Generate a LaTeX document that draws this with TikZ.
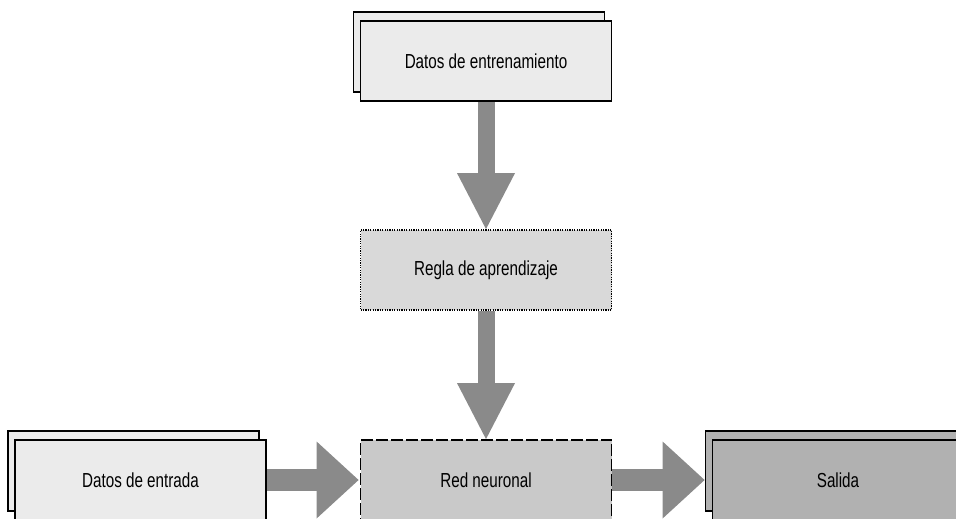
\documentclass[tikz,border=0pt]{standalone}
\usepackage{fontspec}
\setmainfont{Liberation Sans}[FakeStretch=0.75]
\usepackage{tikz}
\usetikzlibrary{arrows.meta}
\usetikzlibrary{shadows}
\usetikzlibrary{backgrounds}
\definecolor{datafill}{HTML}{EBEBEB}
\definecolor{rulefill}{HTML}{D9D9D9}
\definecolor{netfill}{HTML}{C9C9C9}
\definecolor{outfill}{HTML}{B1B1B1}
\definecolor{flowgray}{HTML}{8A8A8A}
\tikzset{box/.style={draw, line width=1.8pt, inner sep=0pt, minimum width=251pt, minimum height=80pt, font=\fontsize{20.3}{24}\selectfont}}
\tikzset{stackbox/.style={box, fill=#1, copy shadow={shadow xshift=-7pt, shadow yshift=9pt, fill=#1, draw=black, line width=1.8pt}}}
\tikzset{downflow/.style={color=flowgray, line width=17pt, -{Triangle[width=58pt, length=56pt, line width=0pt]}}}
\tikzset{sideflow/.style={color=flowgray, line width=22pt, -{Triangle[width=77pt, length=42pt, line width=0pt]}}}

\begin{document}
\begin{tikzpicture}[x=1pt,y=-1pt]
  \useasboundingbox (0,0) rectangle (956,519);
  \node[stackbox=datafill] (train) at (486,61) {Datos de entrenamiento};
  \node[box, fill=rulefill, dash pattern=on 1.2pt off 1.2pt] (rule) at (486,270) {Regla de aprendizaje};
  \node[box, fill=netfill, dash pattern=on 12pt off 3pt] (net) at (486,480) {Red neuronal};
  \node[stackbox=datafill] (input) at (140.5,480) {Datos de entrada};
  \node[stackbox=outfill] (out) at (838,480) {Salida};
  \begin{scope}[on background layer]
    \foreach \u/\v/\sty/\gap in {
      train/rule/downflow/0,
      rule/net/downflow/0,
      input/net/sideflow/1,
      net/out/sideflow/7%
    }{
      \draw[\sty, shorten >=\gap pt] (\u) -- (\v);
    }
  \end{scope}
\end{tikzpicture}
\end{document}
